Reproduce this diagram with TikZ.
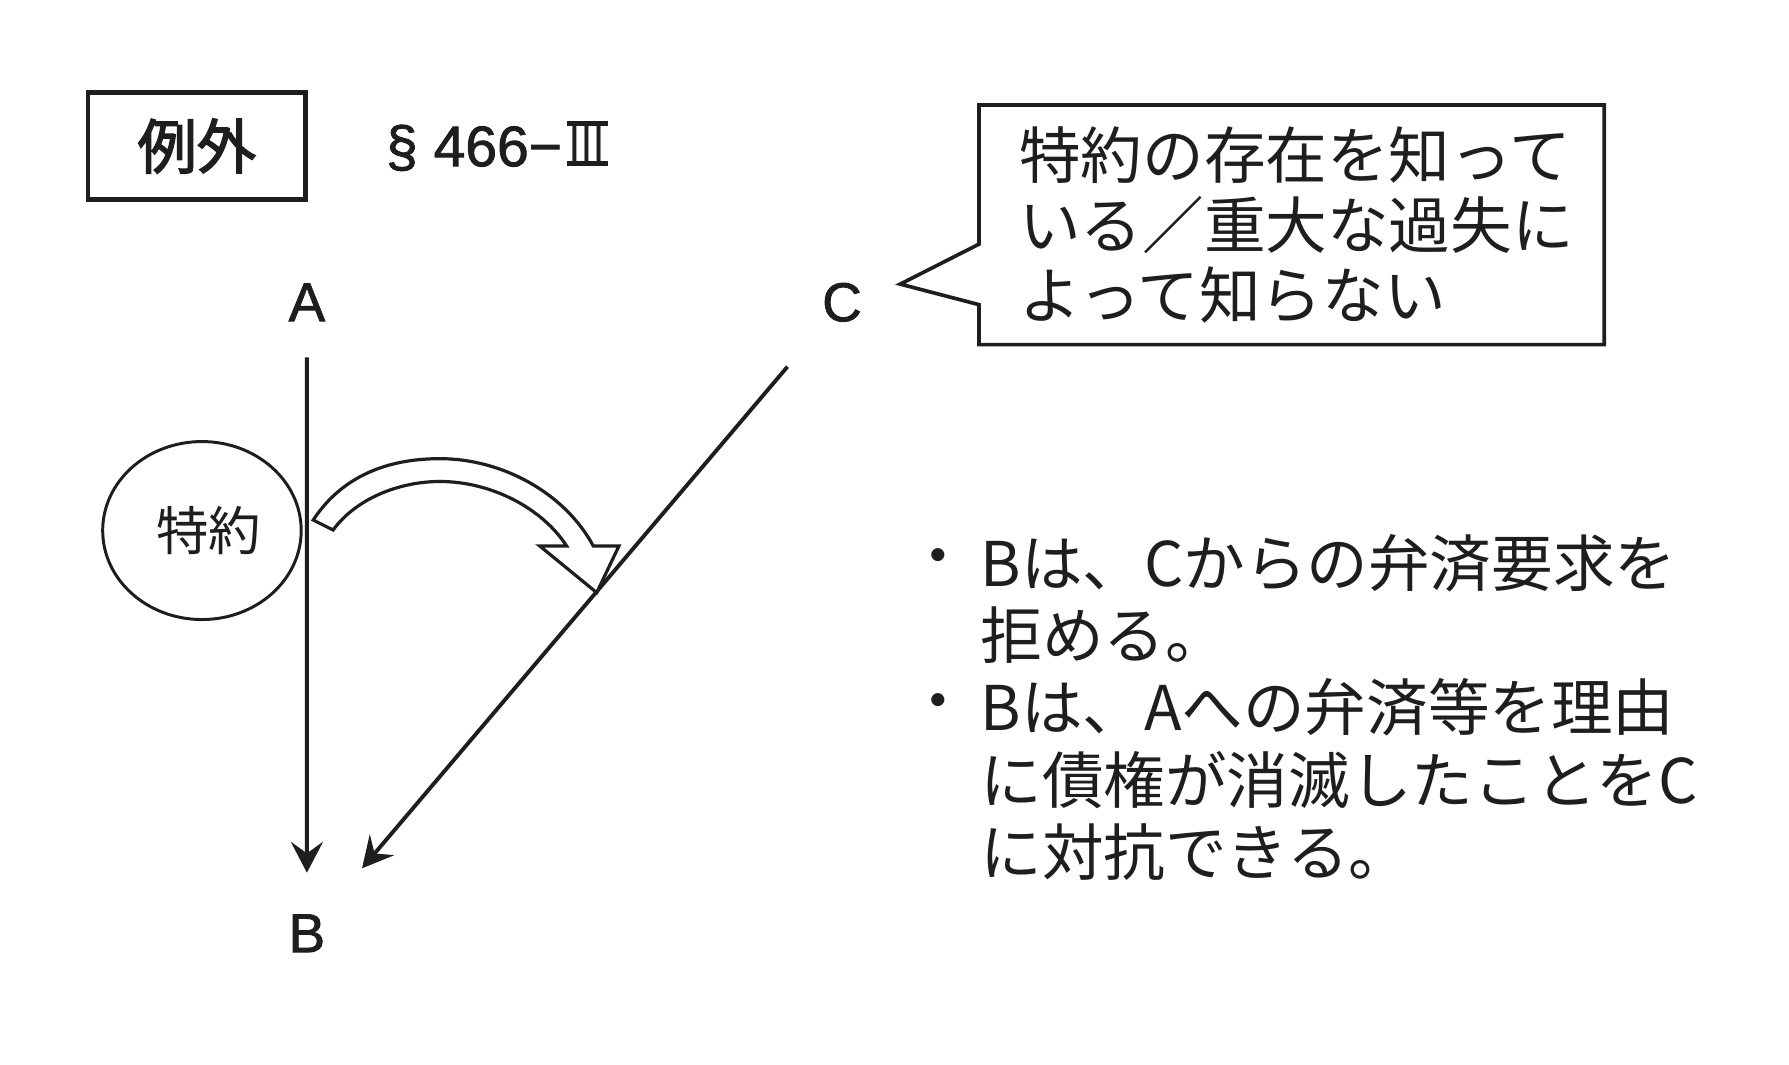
\documentclass[tikz,border=0pt]{standalone}
\usepackage{fontspec}
\usepackage{graphicx}
\setmainfont{Noto Sans CJK JP}
\newfontfamily\latfont[FakeBold=1.5]{Liberation Sans}
\newfontfamily\jpmed[FakeBold=2.5]{Noto Sans CJK JP}
\usetikzlibrary{arrows.meta,shapes.geometric,calc}
\definecolor{ink}{RGB}{30,30,30}
\newcommand\romthree{{\setbox0=\hbox{Ⅲ}\rlap{\rule{\wd0}{0.085em}}\rlap{\raisebox{\dimexpr\ht0-0.085em\relax}{\rule{\wd0}{0.085em}}}\box0}}
\begin{document}
\begin{tikzpicture}[x=0.5pt,y=-0.5pt,
  line/.style={draw=ink, line width=1.7pt},
  arr/.style={line, -{Stealth[length=13.5pt,width=14pt,inset=5pt]}},
  lbl/.style={font=\latfont\fontsize{24}{28}\selectfont, inner sep=0, text=ink},
  jp/.style={font=\fontsize{27}{30.75}\selectfont, inner sep=0, align=left, text=ink},
  jpb/.style={font=\fontsize{27}{31.6}\selectfont, inner sep=0, align=left, text=ink}]
\fill[white] (0,0) rectangle (1568,933);
\useasboundingbox (0,0) rectangle (1568,933);

% title box
\node[draw=ink, line width=2pt, minimum width=95.5pt, minimum height=47pt, inner sep=0,
  font=\jpmed\fontsize{26}{30}\selectfont, text=ink] (rei) at (172.5,128) {例外};
\node[anchor=west, inner sep=0, text=ink, font=\latfont\fontsize{25}{29}\selectfont] (law) at (338,128) {§ 466−\kern2pt{\rmfamily\fontsize{23}{27}\selectfont\scalebox{0.78}[1.17]{\romthree}}};

% parties
\node[lbl] (A) at (269,265) {A};
\node[lbl] (B) at (269,818) {B};
\node[lbl] (C) at (738,265) {C};

\draw[arr] ($(A)!0.087!(B)$) -- ($(A)!0.904!(B)$);
\draw[arr] ($(C)!0.102!(B)$) -- ($(C)!0.897!(B)$);

% special agreement
\node[draw=ink, line width=1.3pt, ellipse, minimum width=87pt, minimum height=78pt, inner sep=0,
  font=\fontsize{23}{27}\selectfont, text=ink] (tok) at (177,465) {\hspace{6pt}特約};

% hollow curved arrow
\draw[draw=ink, line width=1.4pt, fill=white, line join=miter]
  (274.5,455.8) .. controls (300,417) and (340,402) .. (385.6,402)
  .. controls (440,402) and (495,432) .. (520,478.5)
  -- (542.5,478.5) -- (523,519.4) -- (473,478.5) -- (496.6,478.5)
  .. controls (475,445) and (430,422) .. (385.6,422)
  .. controls (350,422) and (312,437) .. (292,464.5) -- cycle;

% callout
\draw[draw=ink, line width=1.6pt, line join=miter]
  (858,214) -- (858,92) -- (1406,92) -- (1406,302) -- (858,302) -- (858,267) -- (789,249) -- cycle;
\node[jp, anchor=west] (note) at (893,197) {特約の存在を知って\\いる／重大な過失に\\よって知らない};

% conclusions
\node[jpb, anchor=center] (d1) at (822,494) {・};
\node[jpb, anchor=center] (d2) at (822,621) {・};
\node[jpb, anchor=west] (res) at (859,620) {Bは、Cからの弁済要求を\\拒める。\\Bは、Aへの弁済等を理由\\に債権が消滅したことをC\\に対抗できる。};
\end{tikzpicture}
\end{document}
